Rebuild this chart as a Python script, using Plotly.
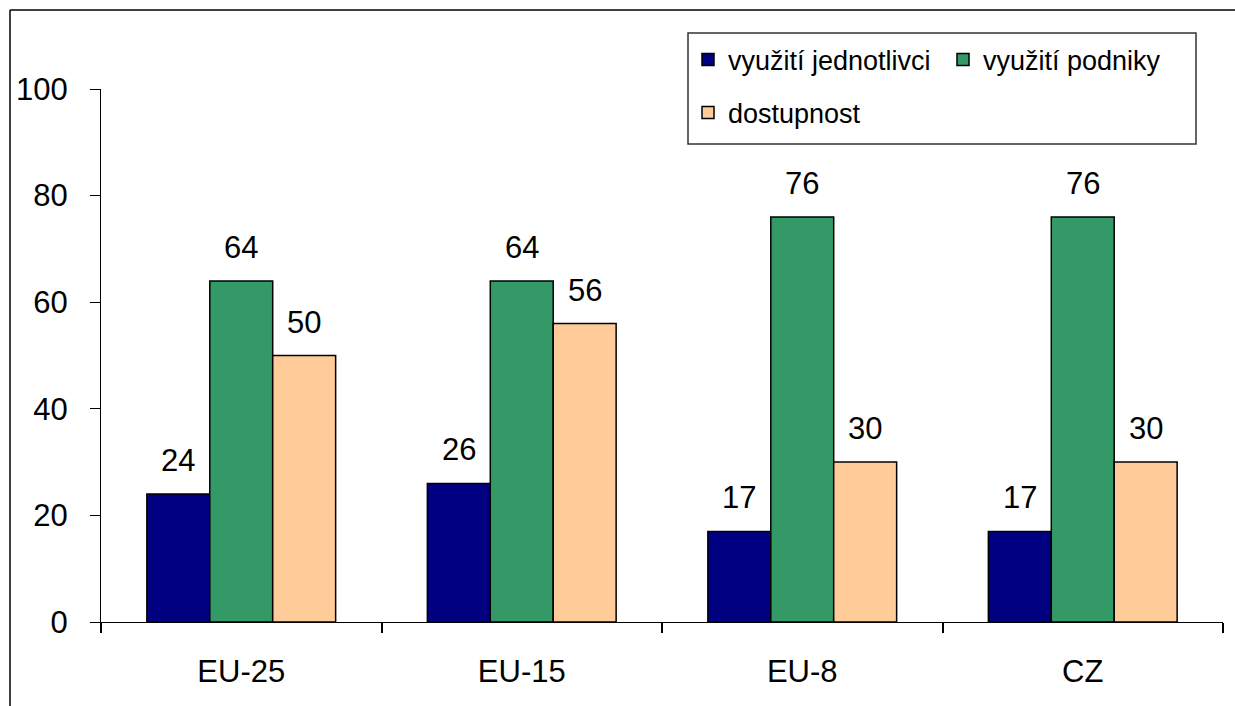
import plotly.graph_objects as go

categories = ["EU-25", "EU-15", "EU-8", "CZ"]
series_names = ["využití jednotlivci", "využití podniky", "dostupnost"]
jednotlivci = [24, 26, 17, 17]
podniky = [64, 64, 76, 76]
dostupnost = [50, 56, 30, 30]
y_ticks = [0, 20, 40, 60, 80, 100]

colors = ["#000080", "#339966", "#FFCC99"]
FONT = "Liberation Sans, Arial, sans-serif"

W, H = 1235, 706
L, R, T, B = 101, 12, 89, 84
plot_w = W - L - R
plot_h = H - T - B
bargap = 0.327
bar_px = plot_w / len(categories) * (1 - bargap) / 3

fig = go.Figure()
all_values = [jednotlivci, podniky, dostupnost]
legends = ["legend", "legend", "legend2"]
for i, (name, vals) in enumerate(zip(series_names, all_values)):
    fig.add_trace(go.Bar(
        x=categories, y=vals, name=name,
        marker=dict(color=colors[i], line=dict(color="black", width=1.5)),
        legend=legends[i],
    ))
    for c, v in zip(categories, vals):
        fig.add_annotation(
            x=c, y=v, text=str(v), showarrow=False,
            xshift=(i - 1) * bar_px, yshift=14, yanchor="bottom",
            font=dict(family=FONT, size=31, color="black"),
        )

def px_to_paper_x(px):
    return (px - L) / plot_w

def px_to_paper_y(py):
    return (H - B - py) / plot_h

# legend frame
fig.add_shape(type="rect", xref="paper", yref="paper",
              x0=px_to_paper_x(688), x1=px_to_paper_x(1196),
              y0=px_to_paper_y(144), y1=px_to_paper_y(33),
              line=dict(color="#333333", width=1.5), fillcolor="white", layer="below")
# outer chart frame (left and top edges)
fig.add_shape(type="line", xref="paper", yref="paper",
              x0=px_to_paper_x(10), x1=px_to_paper_x(1240),
              y0=px_to_paper_y(10), y1=px_to_paper_y(10),
              line=dict(color="black", width=1.5))
fig.add_shape(type="line", xref="paper", yref="paper",
              x0=px_to_paper_x(10), x1=px_to_paper_x(10),
              y0=px_to_paper_y(10), y1=px_to_paper_y(710),
              line=dict(color="black", width=1.5))

fig.update_layout(
    width=W, height=H,
    margin=dict(l=L, r=R, t=T, b=B, pad=0),
    plot_bgcolor="white", paper_bgcolor="white",
    barmode="group", bargap=bargap, bargroupgap=0,
    font=dict(family=FONT, size=31, color="black"),
    showlegend=True,
    legend=dict(orientation="h", x=px_to_paper_x(688), xanchor="left",
                y=px_to_paper_y(60), yanchor="middle",
                entrywidth=210, entrywidthmode="pixels",
                font=dict(family=FONT, size=27, color="black"),
                bgcolor="rgba(0,0,0,0)", borderwidth=0),
    legend2=dict(orientation="h", x=px_to_paper_x(688), xanchor="left",
                 y=px_to_paper_y(113), yanchor="middle",
                 font=dict(family=FONT, size=27, color="black"),
                 bgcolor="rgba(0,0,0,0)", borderwidth=0),
    xaxis=dict(showline=True, linecolor="black", linewidth=1,
               ticks="outside", tickson="boundaries", ticklen=10,
               tickcolor="black", tickwidth=1.5, showgrid=False,
               ticklabelstandoff=22,
               tickfont=dict(family=FONT, size=31, color="black")),
    yaxis=dict(range=[0, 100], tickvals=y_ticks, showline=True,
               linecolor="black", linewidth=1, ticks="outside", ticklen=10,
               tickcolor="black", tickwidth=1, showgrid=False, zeroline=False,
               ticklabelstandoff=16,
               tickfont=dict(family=FONT, size=31, color="black")),
)

fig.write_html("out.html", config={"displayModeBar": False},
               post_script="document.body.style.margin='0px';")
